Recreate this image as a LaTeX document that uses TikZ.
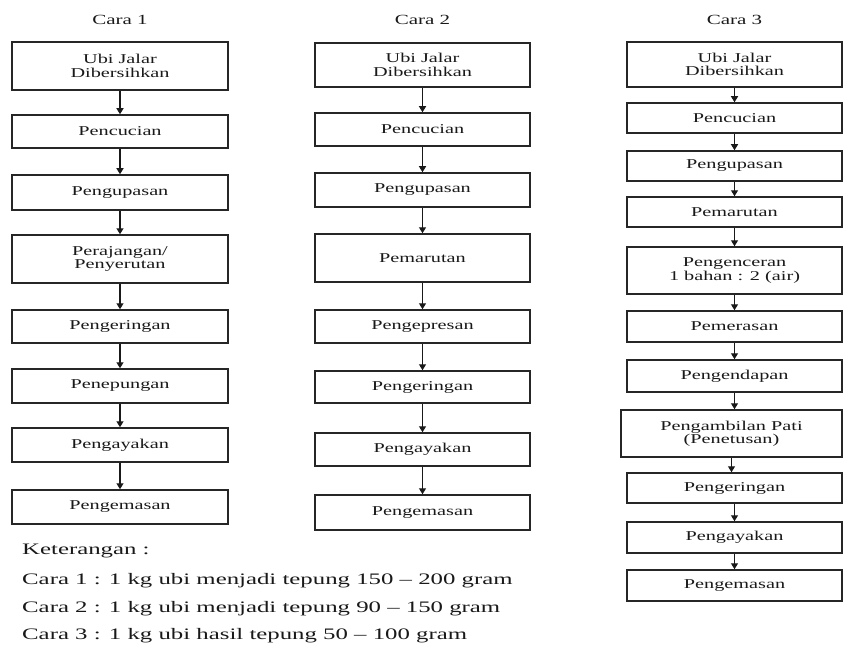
\documentclass[tikz,border=0pt]{standalone}
\usepackage{fontspec}
\usepackage{graphicx}
\setmainfont{Liberation Serif}
\usetikzlibrary{arrows.meta}
\newcommand{\sx}[1]{\scalebox{1.5}[1]{#1}}
\newcommand{\lx}[1]{\scalebox{1.55}[1]{#1}}
\tikzset{
  box/.style={draw=black!85, line width=1.5pt, fill=white, inner sep=0pt, align=center,
    font=\fontsize{13.5}{13.5}\selectfont, text=black!90},
  ttl/.style={font=\fontsize{14}{16}\selectfont, text=black!90},
  legend/.style={anchor=west, font=\fontsize{16}{18}\selectfont, text=black!90, inner sep=0pt},
  arr/.style={draw=black!90, line width=1.2pt, -{Triangle[length=6pt,width=7pt]}}
}
\newcommand{\bx}[6]{\node[box, minimum width=#4pt, minimum height=#5pt] (#1) at (#2,#3) {#6};}
\begin{document}
\begin{tikzpicture}[x=1pt,y=-1pt]
\useasboundingbox[fill=white] (0,0) rectangle (845,655);
% titles
\node[ttl] (t1) at (120,20) {\sx{Cara 1}};
\node[ttl] (t2) at (422.5,20) {\sx{Cara 2}};
\node[ttl] (t3) at (734.5,20) {\sx{Cara 3}};
% Cara 1
\bx{a1}{120}{66}{216}{48}{\sx{Ubi Jalar}\\\sx{Dibersihkan}}
\bx{a2}{120}{131.5}{216}{33}{\sx{Pencucian}}
\bx{a3}{120}{192.5}{216}{35}{\sx{Pengupasan}}
\bx{a4}{120}{259}{216}{48}{\sx{Perajangan/}\\\sx{Penyerutan}}
\bx{a5}{120}{326.5}{216}{33}{\sx{Pengeringan}}
\bx{a6}{120}{386}{216}{34}{\sx{Penepungan}}
\bx{a7}{120}{445}{216}{34}{\sx{Pengayakan}}
\bx{a8}{120}{507}{216}{34}{\sx{Pengemasan}}
% Cara 2
\bx{b1}{422.5}{65}{215}{44}{\sx{Ubi Jalar}\\\sx{Dibersihkan}}
\bx{b2}{422.5}{129.5}{215}{33}{\sx{Pencucian}}
\bx{b3}{422.5}{190}{215}{34}{\sx{Pengupasan}}
\bx{b4}{422.5}{258}{215}{48}{\sx{Pemarutan}}
\bx{b5}{422.5}{326.5}{215}{33}{\sx{Pengepresan}}
\bx{b6}{422.5}{387}{215}{32}{\sx{Pengeringan}}
\bx{b7}{422.5}{449.5}{215}{33}{\sx{Pengayakan}}
\bx{b8}{422.5}{512.5}{215}{35}{\sx{Pengemasan}}
% Cara 3
\bx{c1}{734.5}{64.5}{215}{45}{\sx{Ubi Jalar}\\\sx{Dibersihkan}}
\bx{c2}{734.5}{118}{215}{30}{\sx{Pencucian}}
\bx{c3}{734.5}{166}{215}{30}{\sx{Pengupasan}}
\bx{c4}{734.5}{212}{215}{30}{\sx{Pemarutan}}
\bx{c5}{734.5}{270.5}{215}{47}{\sx{Pengenceran}\\\sx{1 bahan : 2 (air)}}
\bx{c6}{734.5}{326.5}{215}{31}{\sx{Pemerasan}}
\bx{c7}{734.5}{376}{215}{32}{\sx{Pengendapan}}
\bx{c8}{731.5}{433.5}{221}{47}{\sx{Pengambilan Pati}\\\sx{(Penetusan)}}
\bx{c9}{734.5}{488}{215}{30}{\sx{Pengeringan}}
\bx{c10}{734.5}{537.5}{215}{31}{\sx{Pengayakan}}
\bx{c11}{734.5}{585.5}{215}{31}{\sx{Pengemasan}}
% arrows
\foreach \p/\q in {a1/a2,a2/a3,a3/a4,a4/a5,a5/a6,a6/a7,a7/a8,
                   b1/b2,b2/b3,b3/b4,b4/b5,b5/b6,b6/b7,b7/b8,
                   c1/c2,c2/c3,c3/c4,c4/c5,c5/c6,c6/c7,c7/c8,c8/c9,c9/c10,c10/c11}
  \draw[arr] (\p.south) -- (\p.south |- \q.north);
% legend
\node[legend] (k0) at (22,551) {\lx{Keterangan :}};
\node[legend] (k1) at (22,581) {\lx{Cara 1 : 1 kg ubi menjadi tepung 150 -- 200 gram}};
\node[legend] (k2) at (22,609) {\lx{Cara 2 : 1 kg ubi menjadi tepung 90 -- 150 gram}};
\node[legend] (k3) at (22,636) {\lx{Cara 3 : 1 kg ubi hasil tepung 50 -- 100 gram}};
\end{tikzpicture}
\end{document}
